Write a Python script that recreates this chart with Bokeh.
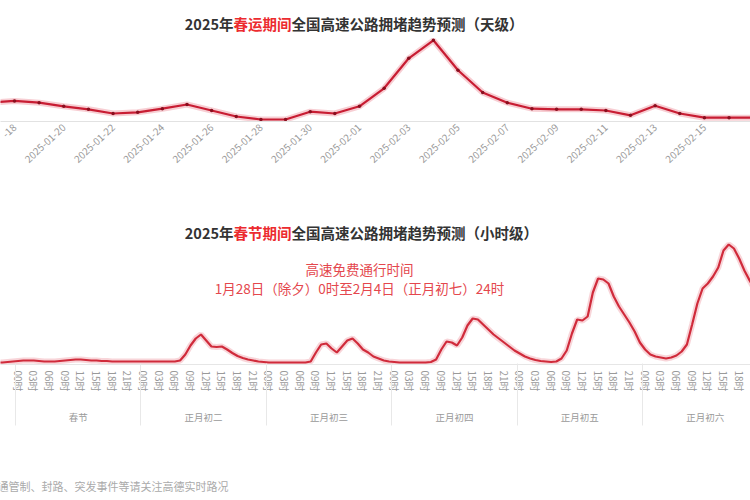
import numpy as np
import pandas as pd
from bokeh.plotting import figure
from bokeh.models import Range1d, FixedTicker, Label, LinearAxis, ColumnDataSource
from bokeh.layouts import column
from bokeh.embed import file_html
from bokeh.resources import INLINE

FONT = "Noto Sans CJK SC"

# ---------------- data: daily forecast ----------------
day_dates = [d.strftime("%Y-%m-%d") for d in pd.date_range("2025-01-17", "2025-02-17")]
day_values = [1.38, 1.41, 1.38, 1.32, 1.27, 1.20, 1.22, 1.28, 1.35, 1.25, 1.15,
              1.10, 1.10, 1.23, 1.20, 1.32, 1.62, 2.12, 2.42, 1.92, 1.55, 1.38,
              1.28, 1.27, 1.27, 1.25, 1.17, 1.33, 1.20, 1.13, 1.13, 1.13]
day_tick_idx = list(range(1, len(day_dates), 2))
# the first tick sits at the left edge: only its tail is visible in the chart
day_tick_text = {i: day_dates[i] for i in day_tick_idx}
day_tick_text[1] = day_dates[1][-3:]

# ---------------- data: hourly forecast ----------------
# hours counted from 2025-01-29 (春节) 00:00, starting 除夕 20:00
hour_offsets = list(range(-4, 142))
hour_values = [0, 0, 0.5, 1,
               1.5, 2, 2, 2, 1.5, 1, 1, 1, 1.5, 2, 2.5, 3, 3, 2.5, 2, 2, 1.5, 1.5, 1, 1, 1, 1, 1, 1,
               1, 1, 1, 1, 1, 1, 1, 2, 8, 17, 24, 28, 22, 16, 15.5, 16, 13, 9.5, 6.5, 4.5, 3, 2, 1, 0.5,
               0, 0, 0, 0, 0, 0, 0, 0, 1, 10, 18, 19, 14, 10, 16, 22, 24, 19, 13, 10, 6, 4, 2, 1,
               0.5, 0, 0, 0, 0, 0, 0, 0.5, 3, 13, 21, 20, 17, 25, 37, 44, 43, 38, 33, 28, 24, 20, 16, 12,
               9, 6, 4, 2.5, 1.5, 1, 0.5, 1, 4, 12, 29, 43, 42, 46, 70, 84, 83, 79, 66, 56, 48, 40, 31, 20,
               13, 8, 6, 5, 4, 5, 7, 11, 18, 38, 59, 74, 79, 86, 95, 112, 118, 114, 104, 92, 82, 73]
day_groups = ["春节", "正月初二", "正月初三", "正月初四", "正月初五", "正月初六"]
hour_ticks = list(range(0, 139, 3))
hour_tick_labels = {t: f"{t % 24:02d}时" for t in hour_ticks}
group_centers = [24 * i + 11.5 for i in range(len(day_groups))]
group_bounds = [24 * i - 0.5 for i in range(len(day_groups))]

RED_TXT = "#ec2b2f"
DARK = "#333333"
GREY = "#9a9a9a"
W = 750

# ---------------- top chart ----------------
p1 = figure(width=W, height=200, output_backend="svg", toolbar_location=None,
            x_range=Range1d(0.4318, 30.87), y_range=Range1d(1.0667, 3.0833),
            y_axis_location=None, min_border_left=0, min_border_right=0,
            min_border_top=0, min_border_bottom=79)
p1.outline_line_color = None
p1.xgrid.visible = False
p1.ygrid.visible = False

src1 = ColumnDataSource(dict(x=list(range(len(day_dates))), y=day_values))
p1.line("x", "y", source=src1, line_width=6, line_color="#f4b9c0", line_alpha=0.7)
p1.line("x", "y", source=src1, line_width=2.2, line_color="#c81d33")
p1.scatter("x", "y", source=src1, size=3.5, fill_color="#8a0f1f", line_color=None)

ax = p1.xaxis[0]
ax.ticker = FixedTicker(ticks=day_tick_idx)
ax.major_label_overrides = day_tick_text
ax.major_label_orientation = 0.75
ax.major_label_text_color = GREY
ax.major_label_text_font = FONT
ax.major_label_text_font_size = "10px"
ax.major_label_standoff = 4
ax.axis_line_color = "#e2e2e2"
ax.major_tick_line_color = None
ax.minor_tick_line_color = None
ax.major_tick_out = 0
ax.minor_tick_out = 0


def title_parts(p, y, red, rest):
    common = dict(x_units="screen", y_units="screen", y=y, text_baseline="middle",
                  text_font=FONT, text_font_size="14.5px", text_font_style="bold")
    p.add_layout(Label(x=233, text="2025年", text_align="right", text_color=DARK, **common))
    p.add_layout(Label(x=233, text=red, text_align="left", text_color=RED_TXT, **common))
    p.add_layout(Label(x=233 + 4 * 14.5, text=rest, text_align="left", text_color=DARK, **common))


title_parts(p1, 98, "春运期间", "全国高速公路拥堵趋势预测（天级）")

# ---------------- bottom chart ----------------
p2 = figure(width=W, height=270, output_backend="svg", toolbar_location=None,
            x_range=Range1d(-3.368, 140.17), y_range=Range1d(-2, 162),
            y_axis_location=None, min_border_left=0, min_border_right=0,
            min_border_top=0, min_border_bottom=106)
p2.outline_line_color = None
p2.xgrid.visible = False
p2.ygrid.visible = False

src2 = ColumnDataSource(dict(x=hour_offsets, y=hour_values))
p2.line("x", "y", source=src2, line_width=6, line_color="#f4b9c0", line_alpha=0.6)
p2.line("x", "y", source=src2, line_width=2.2, line_color="#d02b3b")

bx = p2.xaxis[0]
bx.ticker = FixedTicker(ticks=hour_ticks)
bx.major_label_overrides = hour_tick_labels
bx.major_label_orientation = -np.pi / 2
bx.major_label_text_color = GREY
bx.major_label_text_font = FONT
bx.major_label_text_font_size = "10px"
bx.major_label_standoff = 6
bx.axis_line_color = "#e6e6e6"
bx.major_tick_line_color = None
bx.minor_tick_line_color = None
bx.major_tick_out = 0
bx.minor_tick_out = 0

gx = LinearAxis(ticker=FixedTicker(ticks=group_centers, minor_ticks=group_bounds),
                major_label_overrides={c: g for c, g in zip(group_centers, day_groups)})
gx.axis_line_color = None
gx.major_tick_line_color = None
gx.major_tick_out = 0
gx.minor_tick_in = 31
gx.minor_tick_out = 31
gx.minor_tick_line_color = "#e8e8e8"
gx.major_label_text_color = GREY
gx.major_label_text_font = FONT
gx.major_label_text_font_size = "9.5px"
gx.major_label_standoff = -16
p2.add_layout(gx, "below")

title_parts(p2, 132, "春节期间", "全国高速公路拥堵趋势预测（小时级）")
ann = dict(x_units="screen", y_units="screen", x=359, text_align="center", text_baseline="middle",
           text_font=FONT, text_font_size="13.5px", text_color="#e4474d")
p2.add_layout(Label(y=96, text="高速免费通行时间", **ann))
p2.add_layout(Label(y=77, text="1月28日（除夕）0时至2月4日（正月初七）24时", **ann))

# ---------------- footer ----------------
p3 = figure(width=W, height=30, output_backend="svg", toolbar_location=None,
            x_range=Range1d(0, 1), y_range=Range1d(0, 1),
            x_axis_location=None, y_axis_location=None,
            min_border_left=0, min_border_right=0, min_border_top=0, min_border_bottom=0)
p3.outline_line_color = None
p3.xgrid.visible = False
p3.ygrid.visible = False
p3.add_layout(Label(x=228, y=15, x_units="screen", y_units="screen", text_align="right",
                    text_baseline="middle", text="交通管制、封路、突发事件等请关注高德实时路况",
                    text_font=FONT, text_font_size="11px", text_color="#aaaaaa"))

layout = column(p1, p2, p3, spacing=0)
open("out.html", "w").write(file_html(layout, INLINE))
